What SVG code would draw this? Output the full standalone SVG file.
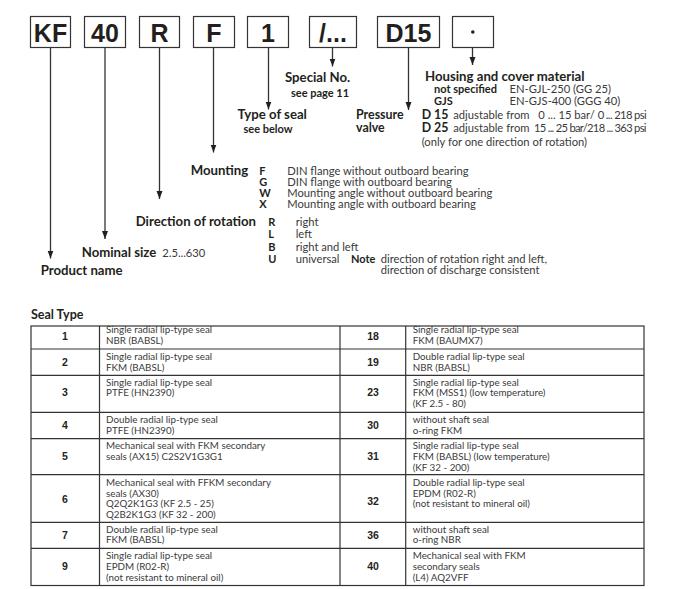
<svg xmlns="http://www.w3.org/2000/svg" width="681" height="589" viewBox="0 0 681 589">
<defs>
<marker id="ah" markerUnits="userSpaceOnUse" markerWidth="8" markerHeight="10" refX="8" refY="3" orient="auto">
<path d="M0,0 L8,3 L0,6 z" fill="#231f20"/>
</marker>
<style>
.box{fill:#fff;stroke:#333;stroke-width:1.2}
.bt{font-family:"Liberation Sans",Arial,sans-serif;font-weight:bold;font-size:25px;fill:#231f20;text-anchor:middle}
.con{stroke:#333;stroke-width:1.3;fill:none;marker-end:url(#ah)}
.h{font-family:Lato,"Open Sans",sans-serif;font-weight:bold;font-size:13.2px;fill:#231f20}
.hv{font-family:Lato,"Open Sans",sans-serif;font-weight:bold;font-size:12.4px;fill:#231f20}
.hs{font-family:Lato,"Open Sans",sans-serif;font-weight:bold;font-size:11px;fill:#231f20}
.k{font-family:Lato,"Open Sans",sans-serif;font-weight:bold;font-size:11px;fill:#231f20}
.r{font-family:Lato,"Open Sans",sans-serif;font-size:11.2px;fill:#3a3a3a}
.tl{stroke:#333;stroke-width:1.2;fill:none}
.num{font-family:"Liberation Sans",Arial,sans-serif;font-weight:bold;font-size:10.5px;fill:#231f20;text-anchor:middle}
.td{font-family:Lato,"Open Sans",sans-serif;font-size:9.8px;fill:#3a3a3a}
</style>
</defs>
<rect width="681" height="589" fill="#fff"/>

<g id="code">
<g id="box-kf"><rect class="box" x="30.5" y="16.5" width="40" height="31"/><text class="bt" x="50.5" y="41.5">KF</text></g>
<g id="box-40"><rect class="box" x="84.5" y="16.5" width="41" height="31"/><text class="bt" x="105" y="41.5">40</text></g>
<g id="box-r"><rect class="box" x="139.5" y="16.5" width="40" height="31"/><text class="bt" x="159.5" y="41.5">R</text></g>
<g id="box-f"><rect class="box" x="193.5" y="16.5" width="41" height="31"/><text class="bt" x="214" y="41.5">F</text></g>
<g id="box-1"><rect class="box" x="247.5" y="16.5" width="41" height="31"/><text class="bt" x="268" y="41.5">1</text></g>
<g id="box-special"><rect class="box" x="309.5" y="16.5" width="47" height="31"/><text class="bt" x="333" y="41.5">/...</text></g>
<g id="box-d15"><rect class="box" x="377.5" y="16.5" width="62" height="31"/><text class="bt" x="408.5" y="41.5">D15</text></g>
<g id="box-mat"><rect class="box" x="452.5" y="16.5" width="41" height="31"/><circle cx="472.8" cy="32" r="1.8" fill="#231f20"/></g>
</g>

<g id="connectors">
<line class="con" x1="50.5" y1="47.5" x2="50.5" y2="258.5"/>
<line class="con" x1="105" y1="47.5" x2="105" y2="239"/>
<line class="con" x1="159.5" y1="47.5" x2="159.5" y2="199"/>
<line class="con" x1="213.5" y1="47.5" x2="213.5" y2="152.5"/>
<line class="con" x1="268.5" y1="47.5" x2="268.5" y2="109.5"/>
<line class="con" x1="332.5" y1="47.5" x2="332.5" y2="66.5"/>
<line class="con" x1="408.5" y1="47.5" x2="408.5" y2="110"/>
<line class="con" x1="472.5" y1="47.5" x2="472.5" y2="65"/>
</g>

<g id="special">
<text class="h" x="285" y="81.5">Special No.</text>
<text class="hs" x="291" y="96.5">see page 11</text>
</g>
<g id="seal">
<text class="h" x="237.5" y="118.5">Type of seal</text>
<text class="hs" x="243.5" y="132.5">see below</text>
</g>
<g id="material">
<text class="h" x="425" y="81">Housing and cover material</text>
<text class="hs" x="434" y="93">not specified</text>
<text class="r" x="509.5" y="93">EN-GJL-250 (GG 25)</text>
<text class="hs" x="434" y="104.5">GJS</text>
<text class="r" x="509.5" y="104.5">EN-GJS-400 (GGG 40)</text>
</g>
<g id="valve">
<text class="hv" x="356" y="119">Pressure</text>
<text class="hv" x="356" y="131.7">valve</text>
<text class="hv" x="421.7" y="119">D 15</text>
<text class="r" x="453.3" y="119">adjustable from</text>
<text class="r" x="538.3" y="119">0 ... 15 bar/</text>
<text class="r" x="597.7" y="119" textLength="49">0 ... 218 psi</text>
<text class="hv" x="421.7" y="131.7">D 25</text>
<text class="r" x="453.3" y="131.7">adjustable from</text>
<text class="r" x="534" y="131.7" textLength="112.5">15 ... 25 bar/218 ... 363 psi</text>
<text class="r" x="421.7" y="145.7">(only for one direction of rotation)</text>
</g>
<g id="mounting">
<text class="h" x="190.7" y="175">Mounting</text>
<text class="k" x="259.3" y="175">F</text>
<text class="k" x="259.3" y="185.7">G</text>
<text class="k" x="259.3" y="196.7">W</text>
<text class="k" x="259.3" y="208.3">X</text>
<text class="r" x="287.3" y="175">DIN flange without outboard bearing</text>
<text class="r" x="287.3" y="185.7">DIN flange with outboard bearing</text>
<text class="r" x="287.3" y="196.7">Mounting angle without outboard bearing</text>
<text class="r" x="287.3" y="208.3">Mounting angle with outboard bearing</text>
</g>
<g id="rotation">
<text class="h" x="135.7" y="225.7">Direction of rotation</text>
<text class="k" x="268.3" y="225.7">R</text>
<text class="k" x="268.3" y="237.7">L</text>
<text class="k" x="268.3" y="251">B</text>
<text class="k" x="268.3" y="262.7">U</text>
<text class="r" x="295.7" y="225.7">right</text>
<text class="r" x="295.7" y="237.7">left</text>
<text class="r" x="295.7" y="251">right and left</text>
<text class="r" x="295.7" y="262.7">universal</text>
<text class="hs" x="351" y="262.7">Note</text>
<text class="r" x="380.7" y="262.7">direction of rotation right and left,</text>
<text class="r" x="380.7" y="274.3">direction of discharge consistent</text>
</g>
<g id="size">
<text class="h" x="81.7" y="256.7">Nominal size</text>
<text class="r" x="162.3" y="256.7">2.5...630</text>
</g>
<g id="product">
<text class="h" x="40.7" y="274.7">Product name</text>
</g>

<g id="seal-table">
<text class="h" x="31" y="319" style="font-size:12.5px">Seal Type</text>
<rect class="tl" x="31" y="326" width="613" height="259.5"/>
<line class="tl" x1="99.5" y1="326" x2="99.5" y2="585.5"/>
<line class="tl" x1="340" y1="326" x2="340" y2="585.5"/>
<line class="tl" x1="405.7" y1="326" x2="405.7" y2="585.5"/>
<line class="tl" x1="31" y1="349" x2="644" y2="349"/>
<line class="tl" x1="31" y1="375.3" x2="644" y2="375.3"/>
<line class="tl" x1="31" y1="412.3" x2="644" y2="412.3"/>
<line class="tl" x1="31" y1="438.7" x2="644" y2="438.7"/>
<line class="tl" x1="31" y1="474.7" x2="644" y2="474.7"/>
<line class="tl" x1="31" y1="522.3" x2="644" y2="522.3"/>
<line class="tl" x1="31" y1="548.3" x2="644" y2="548.3"/>

<text class="num" x="65" y="339.5">1</text>
<text class="td" x="106" y="332.7">Single radial lip-type seal</text>
<text class="td" x="106" y="343.5">NBR (BABSL)</text>

<text class="num" x="65" y="366">2</text>
<text class="td" x="106" y="359.7">Single radial lip-type seal</text>
<text class="td" x="106" y="370.5">FKM (BABSL)</text>

<text class="num" x="65" y="396">3</text>
<text class="td" x="106" y="385.7">Single radial lip-type seal</text>
<text class="td" x="106" y="396.3">PTFE (HN2390)</text>

<text class="num" x="65" y="429">4</text>
<text class="td" x="106" y="423">Double radial lip-type seal</text>
<text class="td" x="106" y="433.7">PTFE (HN2390)</text>

<text class="num" x="65" y="460">5</text>
<text class="td" x="106" y="448.7">Mechanical seal with FKM secondary</text>
<text class="td" x="106" y="460">seals (AX15) C2S2V1G3G1</text>

<text class="num" x="65" y="502.7">6</text>
<text class="td" x="106" y="486">Mechanical seal with FFKM secondary</text>
<text class="td" x="106" y="496.7">seals (AX30)</text>
<text class="td" x="106" y="507.3">Q2Q2K1G3 (KF 2.5 - 25)</text>
<text class="td" x="106" y="518">Q2B2K1G3 (KF 32 - 200)</text>

<text class="num" x="65" y="539.3">7</text>
<text class="td" x="106" y="532.7">Double radial lip-type seal</text>
<text class="td" x="106" y="543.3">FKM (BABSL)</text>

<text class="num" x="65" y="570">9</text>
<text class="td" x="106" y="559">Single radial lip-type seal</text>
<text class="td" x="106" y="570">EPDM (R02-R)</text>
<text class="td" x="106" y="580.5">(not resistant to mineral oil)</text>

<text class="num" x="373" y="339.5">18</text>
<text class="td" x="412.7" y="332.7">Single radial lip-type seal</text>
<text class="td" x="412.7" y="343.5">FKM (BAUMX7)</text>

<text class="num" x="373" y="366">19</text>
<text class="td" x="412.7" y="359.7">Double radial lip-type seal</text>
<text class="td" x="412.7" y="370.5">NBR (BABSL)</text>

<text class="num" x="373" y="396">23</text>
<text class="td" x="412.7" y="385.7">Single radial lip-type seal</text>
<text class="td" x="412.7" y="396.3">FKM (MSS1) (low temperature)</text>
<text class="td" x="412.7" y="407">(KF 2.5 - 80)</text>

<text class="num" x="373" y="429">30</text>
<text class="td" x="412.7" y="423">without shaft seal</text>
<text class="td" x="412.7" y="433.7">o-ring FKM</text>

<text class="num" x="373" y="460">31</text>
<text class="td" x="412.7" y="448.7">Single radial lip-type seal</text>
<text class="td" x="412.7" y="460">FKM (BABSL) (low temperature)</text>
<text class="td" x="412.7" y="470.5">(KF 32 - 200)</text>

<text class="num" x="373" y="505">32</text>
<text class="td" x="412.7" y="486">Double radial lip-type seal</text>
<text class="td" x="412.7" y="496.7">EPDM (R02-R)</text>
<text class="td" x="412.7" y="507.3">(not resistant to mineral oil)</text>

<text class="num" x="373" y="539.3">36</text>
<text class="td" x="412.7" y="532.7">without shaft seal</text>
<text class="td" x="412.7" y="543.3">o-ring NBR</text>

<text class="num" x="373" y="570">40</text>
<text class="td" x="412.7" y="559">Mechanical seal with FKM</text>
<text class="td" x="412.7" y="570">secondary seals</text>
<text class="td" x="412.7" y="580.5">(L4) AQ2VFF</text>
</g>
</svg>
